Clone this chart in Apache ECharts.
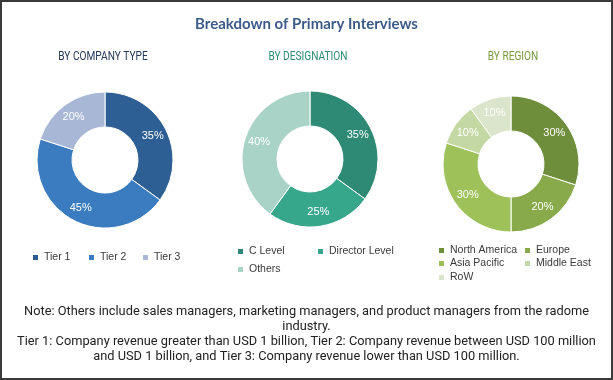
<!DOCTYPE html>
<html>
<head>
<meta charset="utf-8">
<script src="https://cdn.jsdelivr.net/npm/echarts@6/dist/echarts.min.js"></script>
<style>
html,body{margin:0;padding:0;background:#fff;}
#c{width:613px;height:380px;}
</style>
</head>
<body>
<div id="c"></div>
<script>
var companyCats = ['Tier 1', 'Tier 2', 'Tier 3'];
var companyVals = [35, 45, 20];
var designationCats = ['C Level', 'Director Level', 'Others'];
var designationVals = [35, 25, 40];
var regionCats = ['North America', 'Europe', 'Asia Pacific', 'Middle East', 'RoW'];
var regionVals = [30, 20, 30, 10, 10];

var companyColors = ['#2e5f94', '#3b7cc0', '#a8b7d6'];
var designationColors = ['#2e8a74', '#37a78c', '#a9d3c6'];
var regionColors = ['#6f8e3b', '#88aa4a', '#9ec15a', '#c4d8a3', '#dbe5cc'];

var titleText = 'Breakdown of Primary Interviews';
var subTitles = ['BY COMPANY TYPE', 'BY DESIGNATION', 'BY REGION'];
var noteLines = [
  'Note: Others include sales managers, marketing managers, and product managers from the radome',
  'industry.',
  'Tier 1: Company revenue greater than USD 1 billion, Tier 2: Company revenue between USD 100 million',
  'and USD 1 billion, and Tier 3: Company revenue lower than USD 100 million.'
];

function mk(cats, vals, colors) {
  return cats.map(function (c, i) {
    return { name: c, value: vals[i], itemStyle: { color: colors[i] } };
  });
}

var chart = echarts.init(document.getElementById('c'), null, { renderer: 'canvas' });

var legendText = { fontSize: 10.5, color: '#3a3a3a', fontFamily: '"Liberation Sans", Arial, sans-serif' };

function pieSeries(cats, vals, colors, cx, cy) {
  return {
    type: 'pie',
    radius: [33, 68],
    center: [cx, cy],
    startAngle: 90,
    clockwise: true,
    avoidLabelOverlap: false,
    silent: true,
    itemStyle: { borderColor: '#fff', borderWidth: 1 },
    label: {
      show: true,
      position: 'inside',
      formatter: '{c}%',
      color: '#fff',
      fontSize: 11,
      fontFamily: '"Liberation Sans", Arial, sans-serif'
    },
    labelLine: { show: false },
    data: mk(cats, vals, colors)
  };
}

function leg(name, left, cy) {
  return {
    data: [name],
    left: left,
    top: cy - 4,
    orient: 'horizontal',
    itemWidth: 7,
    itemHeight: 7,
    itemGap: 0,
    icon: 'rect',
    padding: 0,
    selectedMode: false,
    textStyle: legendText
  };
}

function sub(text, x, color) {
  return { type: 'text', x: x, y: 57, scaleX: 0.78, silent: true,
    style: { text: text, fontSize: 13, fontFamily: 'Roboto, sans-serif', fill: color, align: 'center', verticalAlign: 'middle' } };
}
function note(text, y) {
  return { type: 'text', x: 306.5, y: y, silent: true,
    style: { text: text, fontSize: 12.8, fontFamily: 'Roboto, sans-serif', fill: '#222', align: 'center', verticalAlign: 'middle' } };
}

var option = {
  animation: false,
  backgroundColor: '#fff',
  title: [
    { text: titleText, left: 'center', top: 12,
      textStyle: { fontSize: 15, fontWeight: 'bold', color: '#3b5b88', fontFamily: 'Lato, "Open Sans", sans-serif' } }
  ],
  legend: [
    leg(companyCats[0], 31, 256),
    leg(companyCats[1], 87, 256),
    leg(companyCats[2], 141, 256),
    leg(designationCats[0], 236, 250),
    leg(designationCats[1], 316, 250),
    leg(designationCats[2], 236, 268),
    leg(regionCats[0], 437, 249),
    leg(regionCats[1], 523, 249),
    leg(regionCats[2], 437, 262),
    leg(regionCats[3], 523, 262),
    leg(regionCats[4], 437, 276)
  ],
  series: [
    pieSeries(companyCats, companyVals, companyColors, 105, 160),
    pieSeries(designationCats, designationVals, designationColors, 310, 159),
    pieSeries(regionCats, regionVals, regionColors, 511, 164)
  ],
  graphic: [
    { type: 'rect', shape: { x: 1, y: 1, width: 611, height: 378 }, style: { fill: 'none', stroke: '#3a3a3a', lineWidth: 2 }, silent: true },
    sub(subTitles[0], 103, '#24395a'),
    sub(subTitles[1], 308, '#2f8a70'),
    sub(subTitles[2], 513, '#789a3e'),
    note(noteLines[0], 312),
    note(noteLines[1], 327),
    note(noteLines[2], 342),
    note(noteLines[3], 357)
  ]
};
chart.setOption(option);
</script>
</body>
</html>
